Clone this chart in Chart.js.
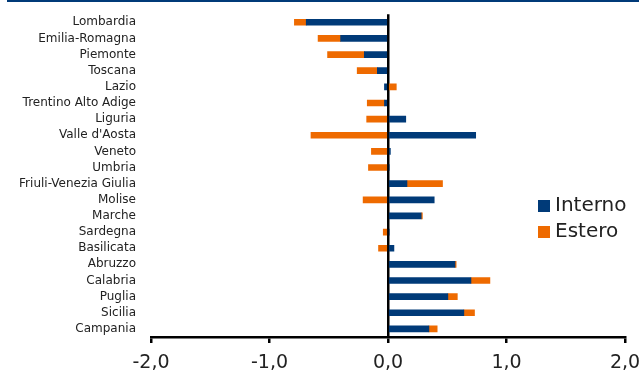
<!DOCTYPE html>
<html>
<head>
<meta charset="utf-8">
<script src="https://cdn.jsdelivr.net/npm/chart.js@4/dist/chart.umd.min.js"></script>
<style>
  html, body { margin: 0; padding: 0; background: #fff; }
  #wrap { position: relative; width: 639px; height: 374px; }
  #topline { position: absolute; left: 7px; right: 0; top: 0; height: 2px; background: #003a78; }
</style>
</head>
<body>
<div id="wrap">
  <div id="topline"></div>
  <canvas id="grafico" width="639" height="374"></canvas>
</div>
<script>
// dati
let regioni = ['Lombardia','Emilia-Romagna','Piemonte','Toscana','Lazio','Trentino Alto Adige','Liguria',
  "Valle d'Aosta",'Veneto','Umbria','Friuli-Venezia Giulia','Molise','Marche','Sardegna','Basilicata',
  'Abruzzo','Calabria','Puglia','Sicilia','Campania'];
let interno = [-0.69,-0.40,-0.20,-0.09,-0.03,-0.03,0.15,0.74,0.02,0.01,0.16,0.39,0.28,0.01,0.05,0.565,0.70,0.505,0.64,0.345];
let estero  = [-0.10,-0.19,-0.31,-0.17,0.07,-0.145,-0.18,-0.65,-0.14,-0.165,0.30,-0.21,0.01,-0.04,-0.08,0.01,0.16,0.08,0.09,0.07];
let xTicks = [-2, -1, 0, 1, 2];

let blu = '#003a78';
let arancio = '#ee6a00';
let fontBase = 'DejaVu Sans';

// legenda disegnata dentro l'area del grafico
const legendaInterna = {
  id: 'legendaInterna',
  afterDraw(chart) {
    const c = chart.ctx;
    const voci = chart.data.datasets;
    c.save();
    c.font = '20px ' + fontBase;
    c.textBaseline = 'middle';
    voci.forEach((d, i) => {
      const y = 206 + i * 26;
      c.fillStyle = d.backgroundColor;
      c.fillRect(538, y - 6, 12, 12);
      c.fillStyle = '#222';
      c.fillText(d.label, 555, y);
    });
    c.restore();
  }
};

let ctx = document.getElementById('grafico').getContext('2d');

let grafico = new Chart(ctx, {
  type: 'bar',
  data: {
    labels: regioni,
    datasets: [
      { label: 'Interno', data: interno, backgroundColor: blu, barThickness: 6 },
      { label: 'Estero', data: estero, backgroundColor: arancio, barThickness: 6 }
    ]
  },
  options: {
    indexAxis: 'y',
    responsive: false,
    animation: false,
    layout: { padding: { top: 4, right: 0, left: 0, bottom: 0 } },
    plugins: {
      legend: { display: false },
      tooltip: { enabled: false }
    },
    scales: {
      x: {
        stacked: true,
        min: -2, max: 2,
        afterBuildTicks: (s) => { s.ticks = xTicks.map(v => ({ value: v })); },
        afterFit: (s) => { s.height = 37; s.paddingRight = 14; },
        grid: {
          color: (c) => c.tick && c.tick.value === 0 ? '#000' : 'rgba(0,0,0,0)',
          lineWidth: 2.5,
          tickColor: '#000',
          tickLength: 6,
          drawOnChartArea: true
        },
        border: { color: '#000', width: 2.5 },
        ticks: {
          color: '#222',
          font: { family: fontBase, size: 19 },
          padding: 9,
          callback: (v) => Number(v).toFixed(1).replace('.', ',')
        }
      },
      y: {
        stacked: true,
        afterFit: (s) => { s.width = 151; },
        grid: { display: false },
        border: { display: false },
        ticks: {
          color: '#222',
          font: { family: fontBase, size: 12 },
          padding: 7,
          autoSkip: false
        }
      }
    }
  },
  plugins: [legendaInterna]
});
</script>
</body>
</html>
